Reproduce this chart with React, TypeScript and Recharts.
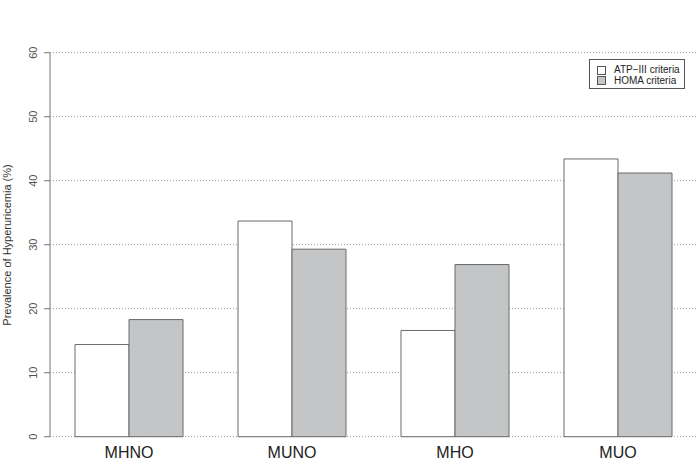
import React from "react";
import {
  BarChart,
  Bar,
  XAxis,
  YAxis,
  CartesianGrid,
  Label,
} from "recharts";

const GROUPS = ["MHNO", "MUNO", "MHO", "MUO"];
const ATP_VALUES = [14.4, 33.7, 16.6, 43.4];
const HOMA_VALUES = [18.3, 29.3, 26.9, 41.2];
const Y_TICKS = [0, 10, 20, 30, 40, 50, 60];
const SERIES_NAMES = ["ATP\u2212III criteria", "HOMA criteria"];

const FONT = "'Liberation Sans', Arial, Helvetica, sans-serif";
const GRAY = "#c4c5c7";
const EDGE = "#6a6a6a";

const data = GROUPS.map((g, i) => ({
  group: g,
  atp: ATP_VALUES[i],
  homa: HOMA_VALUES[i],
}));

function YTick(props: any) {
  const { y, payload } = props;
  return (
    <text
      transform={`translate(37,${y}) rotate(-90)`}
      textAnchor="middle"
      fontSize={11}
      fill="#555"
      fontFamily={FONT}
    >
      {payload.value}
    </text>
  );
}

// legend box drawn on top of the chart, top right corner
function LegendBox() {
  const fills = ["#ffffff", GRAY];
  return (
    <div
      style={{
        position: "absolute",
        left: 589,
        top: 59,
        border: "1px solid #555",
        width: 96,
        height: 30,
        boxSizing: "border-box",
        padding: "5px 0 0 7px",
        background: "#fff",
        fontFamily: FONT,
        fontSize: 10,
        color: "#222",
        lineHeight: "10.5px",
      }}
    >
      {SERIES_NAMES.map((name, i) => (
        <div key={name} style={{ display: "flex", alignItems: "center" }}>
          <span
            style={{
              display: "inline-block",
              width: 7,
              height: 7,
              border: "1px solid #555",
              background: fills[i],
              marginRight: 8,
            }}
          />
          {name}
        </div>
      ))}
    </div>
  );
}

export default function App() {
  return (
    <div
      style={{
        position: "absolute",
        left: 0,
        top: 0,
        width: 697,
        height: 464,
        overflow: "hidden",
        background: "#fff",
      }}
    >
      <BarChart
        width={697}
        height={464}
        data={data}
        margin={{ top: 52.7, right: 0, bottom: 0, left: 0 }}
        barCategoryGap={27.5}
        barGap={0}
      >
        <CartesianGrid
          vertical={false}
          stroke="#999"
          strokeDasharray="1 2"
        />
        <XAxis
          dataKey="group"
          axisLine={false}
          tickLine={false}
          height={27.3}
          padding={{ left: -2.5, right: -2.5 }}
          tickMargin={4}
          tick={{ fontSize: 16, fill: "#222", fontFamily: FONT }}
        />
        <YAxis
          domain={[0, 60]}
          ticks={Y_TICKS}
          width={50}
          axisLine={{ stroke: "#777" }}
          tickLine={{ stroke: "#777" }}
          tickSize={6}
          tick={<YTick />}
        >
          <Label
            content={() => (
              <text
                transform="translate(11,245) rotate(-90)"
                textAnchor="middle"
                fontSize={11}
                fill="#333"
                fontFamily={FONT}
              >
                Prevalence of Hyperuricemia (%)
              </text>
            )}
          />
        </YAxis>
        <Bar
          dataKey="atp"
          name={SERIES_NAMES[0]}
          fill="#ffffff"
          stroke={EDGE}
          strokeWidth={1}
          isAnimationActive={false}
        />
        <Bar
          dataKey="homa"
          name={SERIES_NAMES[1]}
          fill={GRAY}
          stroke={EDGE}
          strokeWidth={1}
          isAnimationActive={false}
        />
      </BarChart>
      <LegendBox />
    </div>
  );
}
